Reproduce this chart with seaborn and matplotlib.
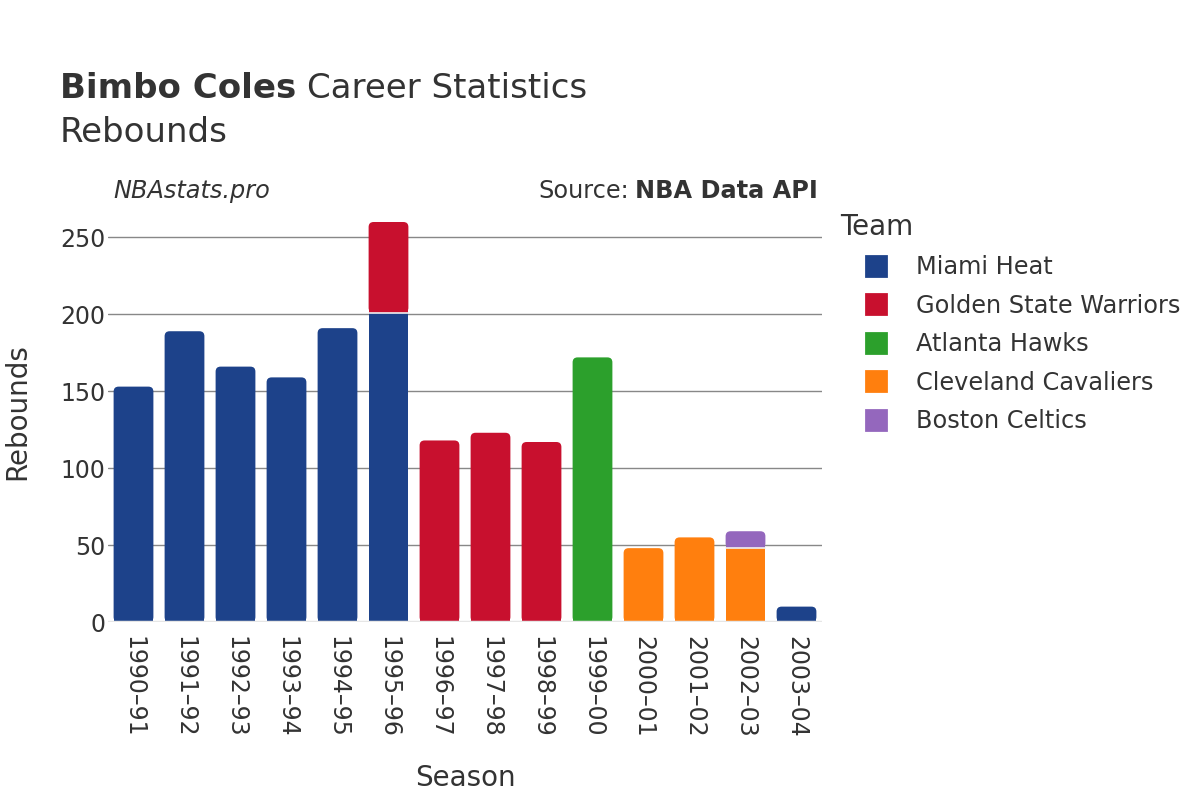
"""Bimbo Coles career rebounds by season, stacked by team."""

import matplotlib.pyplot as plt
import pandas as pd
import seaborn as sns
from matplotlib.lines import Line2D
from matplotlib.patches import FancyBboxPatch

SEASONS = ["1990–91", "1991–92", "1992–93", "1993–94", "1994–95", "1995–96", "1996–97",
           "1997–98", "1998–99", "1999–00", "2000–01", "2001–02", "2002–03", "2003–04"]
TEAMS = ["Miami Heat", "Golden State Warriors", "Atlanta Hawks", "Cleveland Cavaliers", "Boston Celtics"]
COLORS = ["#1d428a", "#c8102e", "#2ca02c", "#ff7f0e", "#9467bd"]

MIAMI = [153, 189, 166, 159, 191, 201, 0, 0, 0, 0, 0, 0, 0, 10]
WARRIORS = [0, 0, 0, 0, 0, 59, 118, 123, 117, 0, 0, 0, 0, 0]
HAWKS = [0, 0, 0, 0, 0, 0, 0, 0, 0, 172, 0, 0, 0, 0]
CAVALIERS = [0, 0, 0, 0, 0, 0, 0, 0, 0, 0, 48, 55, 48, 0]
CELTICS = [0, 0, 0, 0, 0, 0, 0, 0, 0, 0, 0, 0, 11, 0]

df = pd.DataFrame({"season": SEASONS, TEAMS[0]: MIAMI, TEAMS[1]: WARRIORS, TEAMS[2]: HAWKS,
                   TEAMS[3]: CAVALIERS, TEAMS[4]: CELTICS})

sns.set_theme(style="white")
plt.rcParams["font.family"] = ["DejaVu Sans"]
TEXT = "#333333"

fig = plt.figure(figsize=(12, 8), dpi=100)
ax = fig.add_axes([0.09, 0.2225, 0.595, 0.525])
ax.set_axisbelow(True)

YMAX = 273
bottom = pd.Series([0] * len(SEASONS))
for team, color in zip(TEAMS, COLORS):
    sns.barplot(x=df["season"], y=df[team], bottom=bottom, color=color, width=0.78,
                saturation=1, linewidth=0, ax=ax, zorder=3)
    bottom = bottom + df[team]

ax.set_ylim(0, YMAX)
ax.set_xlim(-0.5, len(SEASONS) - 0.5)

# rounded tops for the top segment of each stack
px_per_x = 0.595 * 1200 / len(SEASONS)
px_per_y = 0.525 * 800 / YMAX
aspect = px_per_x / px_per_y
rad = 5 / px_per_x
totals = bottom.tolist()
for p in list(ax.patches):
    h = p.get_height()
    if h <= 0:
        continue
    x0, y0, w = p.get_x(), p.get_y(), p.get_width()
    idx = int(round(x0 + w / 2))
    if y0 > 0:
        # thin light seam between stacked segments
        ax.plot([x0, x0 + w], [y0, y0], color="#f0f0f0", linewidth=1.2, zorder=5)
    if abs(y0 + h - totals[idx]) > 1e-6:
        continue
    cut = min(rad * aspect, h / 2)
    p.set_height(h - cut)
    ax.add_patch(FancyBboxPatch((x0, y0), w, h, boxstyle=f"round,pad=0,rounding_size={rad}",
                                mutation_aspect=aspect, facecolor=p.get_facecolor(),
                                linewidth=0, zorder=3))

ax.set_yticks([0, 50, 100, 150, 200, 250])
ax.yaxis.grid(True, color="#888888", linewidth=1)
ax.axhline(0, color="#e6e6e6", linewidth=2.5, zorder=4)
for spine in ax.spines.values():
    spine.set_visible(False)
ax.tick_params(axis="y", labelsize=17, colors=TEXT, pad=2, length=0)
ax.tick_params(axis="x", labelsize=17, colors=TEXT, pad=10, length=0, labelrotation=-90)
ax.set_xlabel("Season", fontsize=20, color=TEXT, va="center")
ax.set_ylabel("Rebounds", fontsize=20, color=TEXT, va="center")
ax.xaxis.set_label_coords(0.5, (622 - 778) / (0.525 * 800), transform=ax.transAxes)
ax.yaxis.set_label_coords((17 - 108) / (0.595 * 1200), 0.5, transform=ax.transAxes)

# titles
renderer = fig.canvas.get_renderer()
t1 = fig.text(0.05, 1 - 88 / 800, "Bimbo Coles", fontsize=24.5, fontweight="bold", color=TEXT, va="center")
bb = t1.get_window_extent(renderer)
fig.text(bb.x1 / fig.bbox.width + 0.009, 1 - 88 / 800, "Career Statistics", fontsize=24.5,
         color=TEXT, va="center")
fig.text(0.05, 1 - 132 / 800, "Rebounds", fontsize=24.5, color=TEXT, va="center")
fig.text(113 / 1200, 1 - 191 / 800, "NBAstats.pro", fontsize=17.3, style="italic", color=TEXT, va="center")
t2 = fig.text(818 / 1200, 1 - 191 / 800, "NBA Data API", fontsize=17.3, fontweight="bold", color=TEXT,
              va="center", ha="right")
bb2 = t2.get_window_extent(renderer)
fig.text(bb2.x0 / fig.bbox.width - 0.005, 1 - 191 / 800, "Source:", fontsize=17.3, color=TEXT,
         va="center", ha="right")

handles = [Line2D([0], [0], marker="s", linestyle="", markersize=14, markerfacecolor=c,
                  markeredgecolor=c, markeredgewidth=2) for c in COLORS]
leg = fig.legend(handles, TEAMS, title="Team", loc="upper left", bbox_to_anchor=(840 / 1200, 1 - 213 / 800),
                 frameon=False, fontsize=17.3, title_fontsize=20, labelspacing=0.6,
                 handletextpad=0.17, borderaxespad=0, borderpad=0, handlelength=3.0)
leg._legend_box.align = "left"
for txt in leg.get_texts():
    txt.set_color(TEXT)
leg.get_title().set_color(TEXT)

fig.savefig("out.png", dpi=100, facecolor="white")
